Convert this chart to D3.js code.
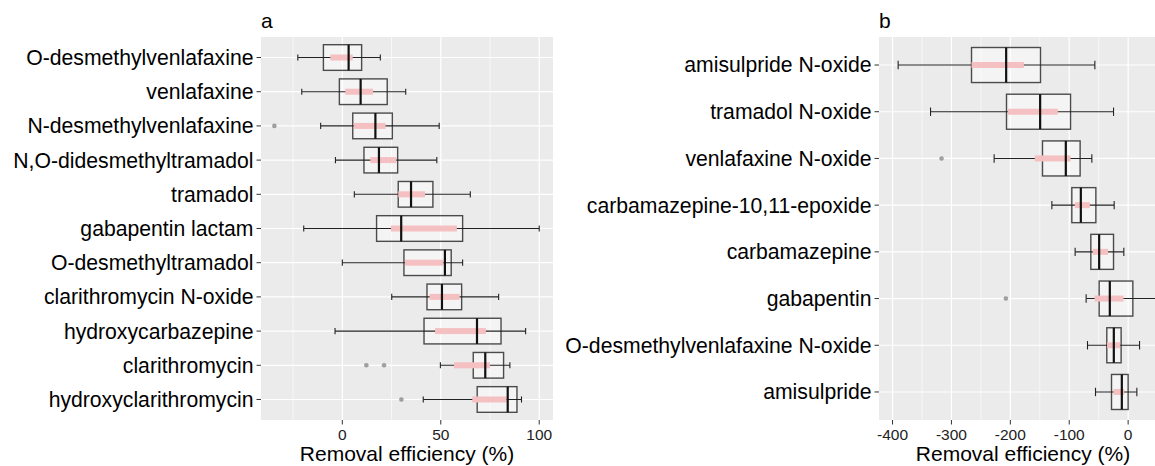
<!DOCTYPE html>
<html>
<head>
<meta charset="utf-8">
<script src="https://cdn.jsdelivr.net/npm/d3@7"></script>
<style>
  body { margin: 0; background: #fff; }
  text { font-family: "Liberation Sans", Arial, sans-serif; fill: #000; }
</style>
</head>
<body>
<div id="chart"></div>
<script>

var width = 1155;
var height = 466;

// panel a : compounds with positive removal
var namesA = ['O-desmethylvenlafaxine', 'venlafaxine', 'N-desmethylvenlafaxine', 'N,O-didesmethyltramadol',
  'tramadol', 'gabapentin lactam', 'O-desmethyltramadol', 'clarithromycin N-oxide', 'hydroxycarbazepine',
  'clarithromycin', 'hydroxyclarithromycin'];
var lowA  = [-22.6, -20.6, -11.0, -3.5,  6.1, -19.6,  0.0, 25.1, -3.7, 49.8, 41.1];
var q1A   = [ -9.6,  -1.5,   5.3, 11.0, 28.4,  17.4, 31.3, 43.0, 41.5, 66.5, 68.5];
var medA  = [  3.2,   9.3,  16.8, 18.6, 34.9,  29.9, 52.1, 50.6, 68.4, 72.6, 84.0];
var q3A   = [  9.8,  22.8,  25.4, 28.1, 46.0,  61.1, 55.3, 60.6, 80.6, 81.9, 88.7];
var highA = [ 19.3,  32.2,  49.2, 48.0, 65.0, 100.0, 61.1, 79.4, 93.1, 85.1, 91.0];
var redLoA = [-6.1,  1.5,  5.8, 14.2, 28.4, 24.7, 31.8, 44.3, 47.1, 56.7, 66.0];
var redHiA = [ 5.3, 15.6, 22.0, 27.4, 42.0, 58.2, 51.3, 59.6, 72.9, 75.0, 83.5];
var outA   = [[], [], [-34.5], [], [], [], [], [], [], [12.2, 21.2], [30.0]];
var ticksA = [0, 50, 100];
var minorA = [-25, 25, 75];

// panel b : compounds formed (negative removal)
var namesB = ['amisulpride N-oxide', 'tramadol N-oxide', 'venlafaxine N-oxide', 'carbamazepine-10,11-epoxide',
  'carbamazepine', 'gabapentin', 'O-desmethylvenlafaxine N-oxide', 'amisulpride'];
var lowB  = [-390.5, -335.5, -227.5, -129.5, -90.0, -71.3, -69.0, -55.4];
var q1B   = [-265.9, -206.5, -145.4,  -95.6, -63.3, -49.2, -36.2, -28.2];
var medB  = [-207.1, -149.4, -105.8,  -80.3, -49.2, -31.1, -24.3, -10.7];
var q3B   = [-148.8,  -97.8,  -81.5,  -54.8, -24.8,   8.0, -11.9,   0.0];
var highB = [ -56.5,  -24.8,  -61.6,  -23.7,  -7.3,  60.0,  19.4,  14.8];
var redLoB = [-265.9, -204.2, -158.4, -90.5, -60.0, -57.0, -35.7, -24.8];
var redHiB = [-177.0, -119.4,  -97.8, -65.0, -34.0,  -7.8, -13.6,  -6.8];
var outB   = [[], [], [-316.8], [], [], [-207.6], [], []];
var ticksB = [-400, -300, -200, -100, 0];
var minorB = [-350, -250, -150, -50, 50];

var svg = d3.select('#chart').append('svg')
  .attr('width', width)
  .attr('height', height);

function drawPanel(p) {
  var g = svg.append('g');

  var x = d3.scaleLinear().domain(p.domain).range([p.left, p.right]);
  var y = d3.scalePoint().domain(p.names).range([p.top, p.bottom]).padding(0.6);
  var step = y.step();
  var boxH = step * 0.75;
  var capH = step * 0.18;

  // panel background
  g.append('rect')
    .attr('x', p.left).attr('y', p.top)
    .attr('width', p.right - p.left).attr('height', p.bottom - p.top)
    .attr('fill', '#ebebeb');

  g.selectAll('.minor').data(p.minor).enter().append('line')
    .attr('x1', function(d) { return x(d); }).attr('x2', function(d) { return x(d); })
    .attr('y1', p.top).attr('y2', p.bottom)
    .attr('stroke', '#fff').attr('stroke-width', 0.6);

  g.selectAll('.majorx').data(p.ticks).enter().append('line')
    .attr('x1', function(d) { return x(d); }).attr('x2', function(d) { return x(d); })
    .attr('y1', p.top).attr('y2', p.bottom)
    .attr('stroke', '#fff').attr('stroke-width', 1.2);

  g.selectAll('.majory').data(p.names).enter().append('line')
    .attr('x1', p.left).attr('x2', p.right)
    .attr('y1', function(d) { return y(d); }).attr('y2', function(d) { return y(d); })
    .attr('stroke', '#fff').attr('stroke-width', 1.2);

  var rows = p.names.map(function(n, i) {
    return {name: n, low: p.low[i], q1: p.q1[i], med: p.med[i], q3: p.q3[i], high: p.high[i],
      rlo: p.redLo[i], rhi: p.redHi[i], out: p.out[i]};
  });

  var row = g.selectAll('.row').data(rows).enter().append('g')
    .attr('transform', function(d) { return 'translate(0,' + y(d.name) + ')'; });

  // box
  row.append('rect')
    .attr('x', function(d) { return x(d.q1); })
    .attr('y', -boxH / 2)
    .attr('width', function(d) { return x(d.q3) - x(d.q1); })
    .attr('height', boxH)
    .attr('fill', 'rgba(255,255,255,0.45)')
    .attr('stroke', 'rgba(20,20,20,0.75)')
    .attr('stroke-width', 1.4);

  // error bar across the whole range, with caps
  row.append('line')
    .attr('x1', function(d) { return x(d.low); }).attr('x2', function(d) { return x(d.high); })
    .attr('stroke', '#222').attr('stroke-width', 1.1);
  row.append('line')
    .attr('x1', function(d) { return x(d.low); }).attr('x2', function(d) { return x(d.low); })
    .attr('y1', -capH / 2).attr('y2', capH / 2)
    .attr('stroke', '#222').attr('stroke-width', 1.1);
  row.append('line')
    .attr('x1', function(d) { return x(d.high); }).attr('x2', function(d) { return x(d.high); })
    .attr('y1', -capH / 2).attr('y2', capH / 2)
    .attr('stroke', '#222').attr('stroke-width', 1.1);

  // shaded interval
  row.append('rect')
    .attr('x', function(d) { return x(d.rlo); })
    .attr('y', -3)
    .attr('width', function(d) { return x(d.rhi) - x(d.rlo); })
    .attr('height', 6)
    .attr('fill', '#f5c0c1');

  // median
  row.append('line')
    .attr('x1', function(d) { return x(d.med); }).attr('x2', function(d) { return x(d.med); })
    .attr('y1', -boxH / 2).attr('y2', boxH / 2)
    .attr('stroke', '#111').attr('stroke-width', 2.2);

  // outliers
  row.selectAll('.out').data(function(d) { return d.out; }).enter().append('circle')
    .attr('cx', function(d) { return x(d); })
    .attr('r', 2.3)
    .attr('fill', 'rgba(90,90,90,0.55)');

  // y axis
  var yl = g.selectAll('.ylab').data(p.names).enter().append('g')
    .attr('transform', function(d) { return 'translate(' + p.left + ',' + y(d) + ')'; });
  yl.append('line').attr('x1', -4.5).attr('x2', 0).attr('stroke', '#333').attr('stroke-width', 1);
  yl.append('text')
    .attr('x', -7.5).attr('dy', '0.35em')
    .attr('text-anchor', 'end')
    .style('font-size', '21.2px')
    .text(function(d) { return d; });

  // x axis
  var xl = g.selectAll('.xlab').data(p.ticks).enter().append('g')
    .attr('transform', function(d) { return 'translate(' + x(d) + ',' + p.bottom + ')'; });
  xl.append('line').attr('y1', 0).attr('y2', 4.5).attr('stroke', '#333').attr('stroke-width', 1);
  xl.append('text')
    .attr('y', 20)
    .attr('text-anchor', 'middle')
    .style('font-size', '15.5px')
    .style('fill', '#222')
    .text(function(d) { return d; });

  g.append('text')
    .attr('x', (p.left + p.right) / 2)
    .attr('y', 461)
    .attr('text-anchor', 'middle')
    .style('font-size', '21px')
    .text('Removal efficiency (%)');

  g.append('text')
    .attr('x', p.left)
    .attr('y', 28)
    .style('font-size', '21px')
    .text(p.tag);
}

drawPanel({tag: 'a', names: namesA, low: lowA, q1: q1A, med: medA, q3: q3A, high: highA,
  redLo: redLoA, redHi: redHiA, out: outA, ticks: ticksA, minor: minorA,
  domain: [-41.3, 107], left: 261, right: 553, top: 37, bottom: 420});

drawPanel({tag: 'b', names: namesB, low: lowB, q1: q1B, med: medB, q3: q3B, high: highB,
  redLo: redLoB, redHi: redHiB, out: outB, ticks: ticksB, minor: minorB,
  domain: [-423, 66], left: 879, right: 1167, top: 37, bottom: 420});

</script>
</body>
</html>
